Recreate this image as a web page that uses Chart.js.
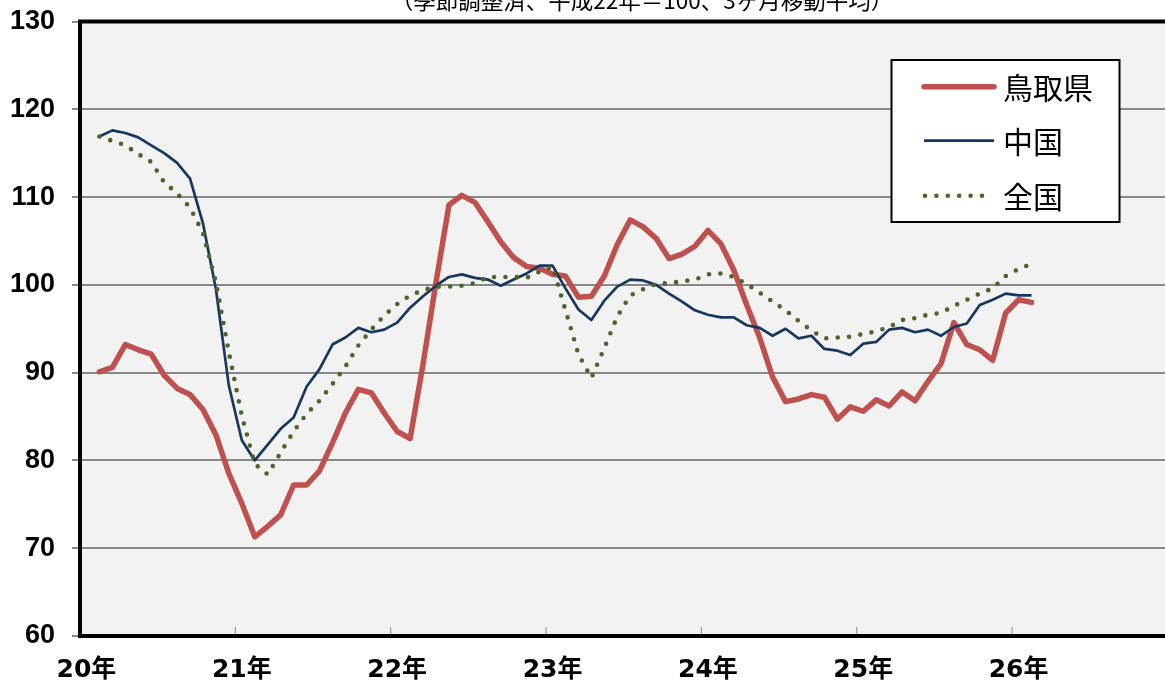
<!DOCTYPE html>
<html><head><meta charset="utf-8">
<script src="https://cdn.jsdelivr.net/npm/chart.js@4.4.0/dist/chart.umd.min.js"></script>
<style>
html,body{margin:0;padding:0;background:#fff;overflow:hidden;width:1165px;height:687px;}
#wrap{position:relative;width:1180px;height:687px;}
</style></head><body>
<div id="wrap"><canvas id="c" width="1180" height="687"></canvas></div>
<script>
// ---- data ----
const yearLabels = ['20年','21年','22年','23年','24年','25年','26年'];
const monthNames = ['1月','2月','3月','4月','5月','6月','7月','8月','9月','10月','11月','12月'];
const seriesNames = ['鳥取県','中国','全国'];
const titleText = '（季節調整済、平成22年＝100、3ヶ月移動平均）';
const yMin = 60, yMax = 130, yStep = 10;

// index 0 = 20年1月 ... values from 20年2月 to 26年2月
const tottori = [null, 90.1, 90.6, 93.2, 92.6, 92.1, 89.7, 88.2, 87.5, 85.8, 82.9,
  78.5, 75.1, 71.3, 72.5, 73.8, 77.2, 77.2, 78.8, 82.0, 85.4,
  88.1, 87.7, 85.4, 83.3, 82.5, 91.0, 100.3, 109.1, 110.2, 109.4,
  107.2, 104.9, 103.1, 102.1, 101.9, 101.2, 101.0, 98.6, 98.7, 101.0,
  104.6, 107.4, 106.6, 105.3, 103.0, 103.5, 104.4, 106.2, 104.7, 101.7,
  97.7, 94.0, 89.5, 86.7, 87.0, 87.5, 87.2, 84.7, 86.1, 85.6,
  86.9, 86.2, 87.8, 86.8, 89.0, 91.0, 95.7, 93.2, 92.6, 91.4,
  96.8, 98.3, 98.0];
const chugoku = [null, 116.9, 117.6, 117.3, 116.8, 115.9, 115.0, 113.9, 112.1, 107.0, 99.5,
  88.5, 82.3, 80.0, 81.8, 83.6, 84.9, 88.4, 90.4, 93.2, 94.0,
  95.1, 94.6, 94.9, 95.7, 97.4, 98.7, 99.9, 100.9, 101.2, 100.8,
  100.6, 99.9, 100.6, 101.3, 102.2, 102.2, 99.6, 97.2, 96.0, 98.2,
  99.8, 100.6, 100.5, 100.0, 99.0, 98.1, 97.1, 96.6, 96.3, 96.3,
  95.4, 95.1, 94.2, 95.0, 93.9, 94.2, 92.7, 92.5, 92.0, 93.3,
  93.5, 94.9, 95.1, 94.6, 94.9, 94.2, 95.2, 95.6, 97.7, 98.3,
  99.0, 98.8, 98.8];
const zenkoku = [null, 116.9, 116.4, 115.9, 114.9, 114.0, 111.7, 110.4, 108.8, 105.9, 100.3,
  92.3, 85.1, 79.6, 78.4, 80.9, 83.3, 85.3, 86.8, 88.7, 90.7,
  93.1, 94.9, 96.5, 97.8, 98.8, 99.4, 99.8, 99.8, 99.9, 100.2,
  100.9, 100.9, 100.9, 100.8, 101.5, 102.1, 97.1, 92.1, 89.4, 92.8,
  96.4, 98.8, 99.5, 100.1, 100.2, 100.4, 100.6, 101.2, 101.3, 100.9,
  100.1, 99.1, 98.1, 97.1, 95.9, 94.8, 93.9, 94.0, 94.1, 94.4,
  94.7, 95.2, 96.0, 96.2, 96.6, 96.8, 97.6, 98.3, 99.0, 99.6,
  101.0, 101.8, 102.4];

// categories: every month of 20年..26年
const categories = [];
yearLabels.forEach(y => monthNames.forEach(m => categories.push(y + m)));

const decor = {
  id: 'decor',
  beforeDraw(chart) {
    const {ctx, chartArea: a} = chart;
    ctx.save();
    ctx.fillStyle = '#f2f2f2';
    ctx.fillRect(a.left, a.top, a.right - a.left, a.bottom - a.top);
    ctx.restore();
  },
  beforeDatasetsDraw(chart) {
    const {ctx, chartArea: a, scales: {x}} = chart;
    ctx.save();
    // inner year tick marks
    ctx.strokeStyle = '#8c8c8c';
    ctx.lineWidth = 1;
    for (let k = 1; k < yearLabels.length; k++) {
      const px = (x.getPixelForTick(12 * k) + x.getPixelForTick(12 * k - 1)) / 2;
      ctx.beginPath();
      ctx.moveTo(px, a.bottom);
      ctx.lineTo(px, a.bottom - 9);
      ctx.stroke();
    }
    // plot frame
    ctx.strokeStyle = '#000';
    ctx.lineWidth = 4;
    ctx.strokeRect(a.left, a.top, a.right - a.left, a.bottom - a.top);
    ctx.restore();
  },
  afterDraw(chart) {
    const {ctx} = chart;
    ctx.save();
    // title (cut at top as in the reference)
    ctx.fillStyle = '#000';
    ctx.font = '22.5px "Noto Sans CJK JP"';
    ctx.textAlign = 'center';
    ctx.textBaseline = 'middle';
    ctx.fillText(titleText, 642, 0);
    // legend box
    const bx = 891.5, by = 60, bw = 228, bh = 162;
    ctx.fillStyle = '#fff';
    ctx.fillRect(bx, by, bw, bh);
    ctx.strokeStyle = '#000';
    ctx.lineWidth = 2;
    ctx.strokeRect(bx, by, bw, bh);
    const rows = [86.7, 140.7, 195.7];
    chart.data.datasets.forEach((ds, i) => {
      const ry = rows[i];
      ctx.beginPath();
      ctx.strokeStyle = ds.borderColor;
      ctx.lineWidth = ds.borderWidth;
      ctx.lineCap = ds.borderCapStyle || 'butt';
      ctx.setLineDash(ds.borderDash || []);
      if (ds.borderDash) { ctx.moveTo(925, ry); ctx.lineTo(985, ry); }
      else { ctx.moveTo(924, ry); ctx.lineTo(994, ry); }
      ctx.stroke();
      ctx.setLineDash([]);
      ctx.fillStyle = '#000';
      ctx.font = '30px "Noto Sans CJK JP"';
      ctx.textAlign = 'left';
      ctx.textBaseline = 'middle';
      ctx.fillText(ds.label, 1003, ry + 1);
    });
    ctx.restore();
  }
};

new Chart(document.getElementById('c'), {
  type: 'line',
  data: {
    labels: categories,
    datasets: [
      {label: seriesNames[0], data: tottori, borderColor: '#C0504D', borderWidth: 5.5,
       borderCapStyle: 'round', borderJoinStyle: 'round', pointRadius: 0, tension: 0, order: 3},
      {label: seriesNames[1], data: chugoku, borderColor: '#17375E', borderWidth: 2.7,
       borderJoinStyle: 'round', pointRadius: 0, tension: 0, order: 2},
      {label: seriesNames[2], data: zenkoku, borderColor: '#4F6228', borderWidth: 4.6,
       borderDash: [0, 11.4], borderCapStyle: 'round', pointRadius: 0, tension: 0, order: 1}
    ]
  },
  options: {
    responsive: false,
    animation: false,
    events: [],
    layout: {padding: {top: 21.5, right: 1.5, left: 0, bottom: 0}},
    plugins: {legend: {display: false}, tooltip: {enabled: false}, title: {display: false}},
    scales: {
      x: {
        type: 'category', offset: true,
        grid: {display: false, drawTicks: false},
        border: {display: false},
        ticks: {
          autoSkip: false, maxRotation: 0, minRotation: 0, padding: 19, color: '#000',
          font: {family: '"DejaVu Sans", "Noto Sans CJK JP"', size: 25, weight: 'bold'},
          callback: (v, i) => (i % 12 === 0 ? yearLabels[i / 12] : '')
        },
        afterFit: s => { s.height = 51; }
      },
      y: {
        min: yMin, max: yMax,
        ticks: {stepSize: yStep, padding: 17, color: '#000',
          font: {family: '"Liberation Sans", Arial', size: 27, weight: 'bold'}},
        grid: {color: '#888888', lineWidth: 2, tickLength: 8, tickColor: '#888888', tickWidth: 2},
        border: {display: false},
        afterFit: s => { s.width = 80; s.paddingTop = 0; s.paddingBottom = 0; }
      }
    }
  },
  plugins: [decor]
});
</script>
</body></html>
